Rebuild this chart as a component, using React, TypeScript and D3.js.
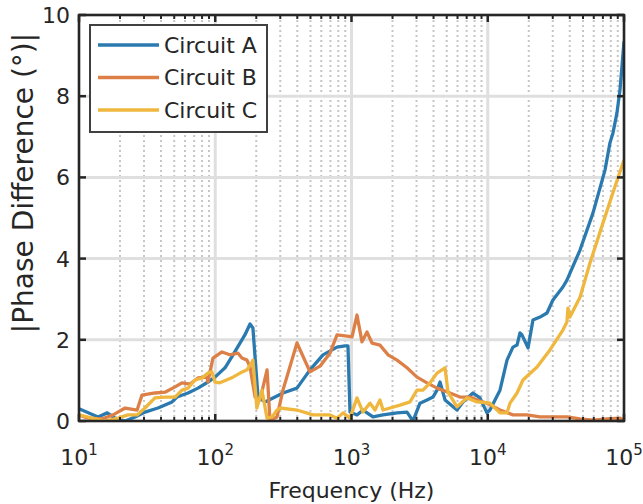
import React from 'react';
import * as d3 from 'd3';

// frequency (Hz) and |phase difference| (deg)
const freqA = [10, 13.8, 16.1, 18.4, 21.8, 25.8, 30.5, 38, 48.2, 52.4, 63.1, 74.7, 88.4, 99.5, 118, 135, 165, 180, 189, 206,
  232, 314, 398, 496, 618, 783, 896, 942, 975, 1097, 1214, 1438, 1703, 2159, 2555, 2826, 3182, 3583, 3963, 4244,
  4463, 4857, 5945, 6575, 7787, 8770, 9867, 10377, 12297, 13848, 15315, 16400, 17247, 17830, 19750, 21475, 24183, 27210, 30092, 35608,
  38131, 47543, 59164, 72521, 78864, 82935, 88810, 93394, 96578, 100000];
const valA = [0.3, 0.1, 0.2, 0.07, 0, 0.1, 0.22, 0.32, 0.47, 0.59, 0.69, 0.81, 0.96, 1.08, 1.31, 1.63, 2.12, 2.39, 2.29, 0.59,
  0.47, 0.69, 0.81, 1.26, 1.63, 1.82, 1.85, 1.85, 0.22, 0.15, 0.27, 0.1, 0.15, 0.2, 0.22, 0, 0.44, 0.52, 0.59, 0.76,
  0.96, 0.52, 0.27, 0.47, 0.69, 0.57, 0.2, 0.27, 0.76, 1.5, 1.82, 1.87, 2.17, 2.12, 1.8, 2.49, 2.56, 2.66, 2.98, 3.3,
  3.47, 4.21, 5.12, 6.18, 6.85, 7.09, 7.59, 8.15, 8.72, 9.35];

const freqB = [10, 11.6, 14.7, 17.8, 21.8, 26.7, 29, 36.1, 42.8, 50.7, 57, 65.3, 74.7, 86.9, 88.4, 96.2, 112, 128, 147, 157,
  171, 180, 196, 213, 240, 252, 284, 314, 398, 496, 587, 695, 783, 927, 1009, 1097, 1194, 1300, 1414, 1618,
  1854, 2159, 2555, 3026, 3583, 4244, 5284, 6252, 7405, 8770, 9867, 12297, 15315, 19423, 24183, 30092, 38131, 47543, 59164, 74994,
  93394, 100000];
const valB = [0.15, 0.07, 0.05, 0.15, 0.32, 0.27, 0.64, 0.69, 0.71, 0.84, 0.94, 0.91, 1.06, 1.08, 0.96, 1.55, 1.7, 1.63, 1.67, 1.55,
  1.5, 1.33, 0.59, 0.52, 1.26, 0.02, 0.1, 0.76, 1.92, 1.21, 1.35, 1.67, 2.12, 2.09, 2.07, 2.61, 1.95, 2.19, 1.92, 1.87,
  1.63, 1.5, 1.31, 1.08, 0.94, 0.81, 0.69, 0.59, 0.59, 0.49, 0.44, 0.27, 0.15, 0.15, 0.1, 0.1, 0.1, 0.05, 0.02, 0.05,
  0.07, 0.02];

const freqC = [10, 12.5, 15.5, 19.3, 22.9, 26.7, 30.5, 36.1, 42.8, 50.7, 57, 63.1, 71, 80, 88.4, 94.6, 99.5, 108, 135, 152,
  171, 186, 189, 202, 220, 240, 261, 284, 299, 398, 521, 695, 783, 867, 975, 1097, 1214, 1368, 1487, 1618,
  1703, 1919, 2270, 2687, 3026, 3347, 3768, 4244, 4857, 5110, 5945, 7041, 8339, 10377, 12297, 13848, 14563, 16400, 18138, 22996,
  28615, 35608, 38131, 38779, 40102, 47543, 56260, 70130, 82935, 100000];
const valC = [0.15, 0.07, 0, 0.07, 0.15, 0.15, 0.32, 0.57, 0.59, 0.59, 0.76, 0.81, 1.01, 1.06, 1.18, 1.21, 0.96, 0.94, 1.08, 1.18,
  1.26, 1.45, 1.5, 0.32, 0.76, 0.07, 0.1, 0.27, 0.32, 0.27, 0.15, 0.15, 0.07, 0.2, 0.07, 0.57, 0.22, 0.44, 0.27, 0.52,
  0.27, 0.32, 0.39, 0.47, 0.76, 0.76, 0.94, 1.18, 1.31, 0.71, 0.35, 0.57, 0.47, 0.44, 0.2, 0.2, 0.44, 0.69, 1.01, 1.33,
  1.75, 2.24, 2.44, 2.78, 2.56, 3.05, 3.89, 4.88, 5.62, 6.43];

const seriesNames = ['Circuit A', 'Circuit B', 'Circuit C'];
const seriesColors = ['#2a7ab0', '#dd8047', '#efb73e'];
const yTicks = [0, 2, 4, 6, 8, 10];
const xDecades = [10, 100, 1000, 10000, 100000];

const W = 643;
const H = 504;
const margin = { top: 15, right: 19, bottom: 83, left: 79 };
const FONT = '"DejaVu Sans", sans-serif';

export default function App() {
  const x = d3.scaleLog().domain([10, 100000]).range([margin.left, W - margin.right]);
  const y = d3.scaleLinear().domain([0, 10]).range([H - margin.bottom, margin.top]);
  const x0 = margin.left, x1 = W - margin.right, y0 = H - margin.bottom, y1 = margin.top;

  const minor: number[] = [];
  xDecades.slice(0, -1).forEach((d) => {
    for (let k = 2; k <= 9; k++) minor.push(d * k);
  });

  const line = d3.line<[number, number]>().x((d) => x(d[0])).y((d) => y(d[1]));
  const series = [
    d3.zip(freqA, valA) as [number, number][],
    d3.zip(freqB, valB) as [number, number][],
    d3.zip(freqC, valC) as [number, number][],
  ];

  const axisColor = '#262626';

  return (
    <svg width={W} height={H} style={{ position: 'absolute', left: 0, top: 0, background: '#fff' }}>
      <defs>
        <clipPath id="plot">
          <rect x={x0} y={y1} width={x1 - x0} height={y0 - y1} />
        </clipPath>
      </defs>
      {/* grid */}
      {minor.map((m) => (
        <line key={'m' + m} x1={x(m)} x2={x(m)} y1={y1} y2={y0} stroke="#c6c6c6" strokeWidth={2} strokeDasharray="2,3" />
      ))}
      {xDecades.map((d) => (
        <line key={'g' + d} x1={x(d)} x2={x(d)} y1={y1} y2={y0} stroke="#dfdfdf" strokeWidth={3} />
      ))}
      {yTicks.map((t) => (
        <line key={'gy' + t} x1={x0} x2={x1} y1={y(t)} y2={y(t)} stroke="#dfdfdf" strokeWidth={3} />
      ))}

      {/* data */}
      <g clipPath="url(#plot)">
        {series.map((s, i) => (
          <path key={i} d={line(s) || ''} fill="none" stroke={seriesColors[i]} strokeWidth={3.3} strokeLinejoin="round" />
        ))}
      </g>

      {/* frame and ticks */}
      <rect x={x0} y={y1} width={x1 - x0} height={y0 - y1} fill="none" stroke={axisColor} strokeWidth={2.5} />
      {xDecades.map((d) => (
        <g key={'t' + d}>
          <line x1={x(d)} x2={x(d)} y1={y0} y2={y0 - 7} stroke={axisColor} strokeWidth={2.5} />
          <line x1={x(d)} x2={x(d)} y1={y1} y2={y1 + 7} stroke={axisColor} strokeWidth={2.5} />
        </g>
      ))}
      {minor.map((m) => (
        <g key={'mt' + m}>
          <line x1={x(m)} x2={x(m)} y1={y0} y2={y0 - 4} stroke={axisColor} strokeWidth={2} />
          <line x1={x(m)} x2={x(m)} y1={y1} y2={y1 + 4} stroke={axisColor} strokeWidth={2} />
        </g>
      ))}
      {yTicks.map((t) => (
        <g key={'yt' + t}>
          <line x1={x0} x2={x0 + 7} y1={y(t)} y2={y(t)} stroke={axisColor} strokeWidth={2.5} />
          <line x1={x1} x2={x1 - 7} y1={y(t)} y2={y(t)} stroke={axisColor} strokeWidth={2.5} />
        </g>
      ))}

      {/* tick labels */}
      {yTicks.map((t) => (
        <text key={'yl' + t} x={x0 - 9} y={y(t)} dy="0.36em" textAnchor="end" fontFamily={FONT} fontSize={22} fill={axisColor}>
          {t}
        </text>
      ))}
      {xDecades.map((d) => (
        <text key={'xl' + d} x={x(d)} y={y0 + 44} textAnchor="middle" fontFamily={FONT} fontSize={22} fill={axisColor}>
          <tspan>10</tspan>
          <tspan dy={-10} fontSize={15}>{Math.round(Math.log10(d))}</tspan>
        </text>
      ))}

      {/* axis titles */}
      <text x={(x0 + x1) / 2} y={498} textAnchor="middle" fontFamily={FONT} fontSize={22} fill={axisColor}>
        Frequency (Hz)
      </text>
      <text transform={`translate(33, 183) rotate(-90)`} textAnchor="middle" fontFamily={FONT} fontSize={28} fill={axisColor}>
        |Phase Difference (°)|
      </text>

      {/* legend */}
      <rect x={90} y={25} width={177} height={107} fill="#fff" stroke="#404040" strokeWidth={2} />
      {seriesNames.map((n, i) => (
        <g key={n} transform={`translate(98, ${45 + i * 32.5})`}>
          <line x1={0} x2={61} y1={0} y2={0} stroke={seriesColors[i]} strokeWidth={3.3} />
          <text x={66} y={0} dy="0.36em" fontFamily={FONT} fontSize={22} fill={axisColor}>
            {n}
          </text>
        </g>
      ))}
    </svg>
  );
}
